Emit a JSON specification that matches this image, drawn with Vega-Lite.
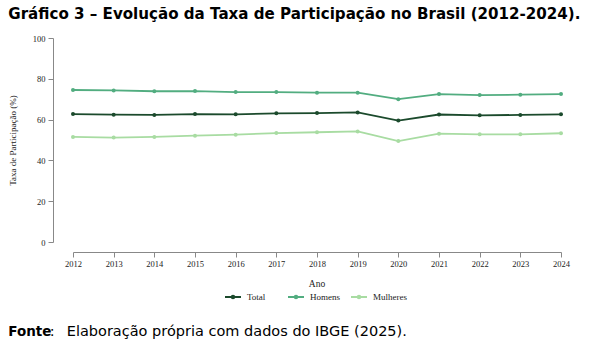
{
  "$schema": "https://vega.github.io/schema/vega-lite/v6.json",
  "background": "white",
  "padding": {"left": 8, "top": 6, "right": 5, "bottom": 5},
  "title": {
    "text": "Fonte",
    "subtitle": "\u200b\u00a0\u00a0\u00a0\u00a0\u00a0\u00a0\u00a0\u00a0\u00a0:\u00a0\u00a0\u2009Elaboração própria com dados do IBGE (2025).",
    "orient": "bottom",
    "anchor": "start",
    "font": "DejaVu Sans",
    "fontSize": 13.5,
    "fontWeight": "bold",
    "color": "#000000",
    "subtitleFont": "DejaVu Sans",
    "subtitleFontSize": 14.5,
    "subtitleFontWeight": "normal",
    "subtitleColor": "#000000",
    "subtitlePadding": -13.5,
    "offset": 22
  },
  "vconcat": [
    {
      "width": 488,
      "height": 204,
      "title": {
        "text": "Gráfico 3 – Evolução da Taxa de Participação no Brasil (2012-2024).",
        "anchor": "start",
        "font": "DejaVu Sans",
        "fontSize": 15.1,
        "fontWeight": "bold",
        "color": "#000000",
        "offset": 12
      },
      "data": {
        "values": [
          {"Ano": 2012, "Serie": "Total", "Taxa": 62.7},
          {"Ano": 2013, "Serie": "Total", "Taxa": 62.4},
          {"Ano": 2014, "Serie": "Total", "Taxa": 62.3},
          {"Ano": 2015, "Serie": "Total", "Taxa": 62.7},
          {"Ano": 2016, "Serie": "Total", "Taxa": 62.6},
          {"Ano": 2017, "Serie": "Total", "Taxa": 63.1},
          {"Ano": 2018, "Serie": "Total", "Taxa": 63.2},
          {"Ano": 2019, "Serie": "Total", "Taxa": 63.5},
          {"Ano": 2020, "Serie": "Total", "Taxa": 59.5},
          {"Ano": 2021, "Serie": "Total", "Taxa": 62.5},
          {"Ano": 2022, "Serie": "Total", "Taxa": 62.1},
          {"Ano": 2023, "Serie": "Total", "Taxa": 62.3},
          {"Ano": 2024, "Serie": "Total", "Taxa": 62.6},
          {"Ano": 2012, "Serie": "Homens", "Taxa": 74.5},
          {"Ano": 2013, "Serie": "Homens", "Taxa": 74.3},
          {"Ano": 2014, "Serie": "Homens", "Taxa": 73.9},
          {"Ano": 2015, "Serie": "Homens", "Taxa": 74.0},
          {"Ano": 2016, "Serie": "Homens", "Taxa": 73.5},
          {"Ano": 2017, "Serie": "Homens", "Taxa": 73.5},
          {"Ano": 2018, "Serie": "Homens", "Taxa": 73.2},
          {"Ano": 2019, "Serie": "Homens", "Taxa": 73.2},
          {"Ano": 2020, "Serie": "Homens", "Taxa": 70.0},
          {"Ano": 2021, "Serie": "Homens", "Taxa": 72.5},
          {"Ano": 2022, "Serie": "Homens", "Taxa": 72.0},
          {"Ano": 2023, "Serie": "Homens", "Taxa": 72.2},
          {"Ano": 2024, "Serie": "Homens", "Taxa": 72.5},
          {"Ano": 2012, "Serie": "Mulheres", "Taxa": 51.5},
          {"Ano": 2013, "Serie": "Mulheres", "Taxa": 51.2},
          {"Ano": 2014, "Serie": "Mulheres", "Taxa": 51.5},
          {"Ano": 2015, "Serie": "Mulheres", "Taxa": 52.1},
          {"Ano": 2016, "Serie": "Mulheres", "Taxa": 52.6},
          {"Ano": 2017, "Serie": "Mulheres", "Taxa": 53.4},
          {"Ano": 2018, "Serie": "Mulheres", "Taxa": 53.8},
          {"Ano": 2019, "Serie": "Mulheres", "Taxa": 54.2},
          {"Ano": 2020, "Serie": "Mulheres", "Taxa": 49.5},
          {"Ano": 2021, "Serie": "Mulheres", "Taxa": 53.1},
          {"Ano": 2022, "Serie": "Mulheres", "Taxa": 52.8},
          {"Ano": 2023, "Serie": "Mulheres", "Taxa": 52.8},
          {"Ano": 2024, "Serie": "Mulheres", "Taxa": 53.3}
        ]
      },
      "mark": {"type": "line", "strokeWidth": 1.8, "point": {"size": 16, "filled": true}},
      "encoding": {
        "x": {
          "field": "Ano",
          "type": "quantitative",
          "scale": {"domain": [2012, 2024], "nice": false, "zero": false},
          "axis": {
            "title": null,
            "values": [2012, 2013, 2014, 2015, 2016, 2017, 2018, 2019, 2020, 2021, 2022, 2023, 2024],
            "format": "d",
            "offset": 10,
            "grid": false,
            "labelFlush": false,
            "labelOverlap": false,
            "labelFont": "Liberation Serif",
            "labelFontSize": 8.5,
            "labelColor": "#222222",
            "domainColor": "#888888",
            "tickColor": "#888888",
            "tickSize": 5,
            "labelPadding": 2
          }
        },
        "y": {
          "field": "Taxa",
          "type": "quantitative",
          "scale": {"domain": [0, 100], "nice": false},
          "axis": {
            "title": "Taxa de Participação (%)",
            "values": [0, 20, 40, 60, 80, 100],
            "offset": 20,
            "grid": false,
            "labelFlush": false,
            "labelFont": "Liberation Serif",
            "labelFontSize": 8.5,
            "labelColor": "#222222",
            "titleFont": "Liberation Serif",
            "titleFontSize": 9,
            "titleFontWeight": "normal",
            "titleColor": "#222222",
            "titlePadding": 15,
            "domainColor": "#888888",
            "tickColor": "#888888",
            "tickSize": 5,
            "labelPadding": 3
          }
        },
        "color": {
          "field": "Serie",
          "type": "nominal",
          "scale": {
            "domain": ["Total", "Homens", "Mulheres"],
            "range": ["#1b4a2c", "#52ad80", "#a8dca2"]
          },
          "legend": {
            "title": "Ano",
            "orient": "bottom",
            "direction": "horizontal",
            "titleAnchor": "middle",
            "titlePadding": 2,
            "titleFont": "Liberation Serif",
            "titleFontSize": 9.5,
            "titleFontWeight": "normal",
            "titleColor": "#222222",
            "labelFont": "Liberation Serif",
            "labelFontSize": 9,
            "labelColor": "#222222",
            "labelOffset": 8,
            "symbolType": "M-1.6,0H1.6M-0.25,0A0.25,0.25,0,1,1,0.25,0A0.25,0.25,0,1,1,-0.25,0",
            "symbolSize": 100,
            "symbolStrokeWidth": 2,
            "gridAlign": "all",
            "columnPadding": 3,
            "offset": 11
          }
        }
      }
    }
  ],
  "config": {
    "view": {"stroke": null},
    "legend": {"layout": {"bottom": {"anchor": "middle"}}}
  }
}
